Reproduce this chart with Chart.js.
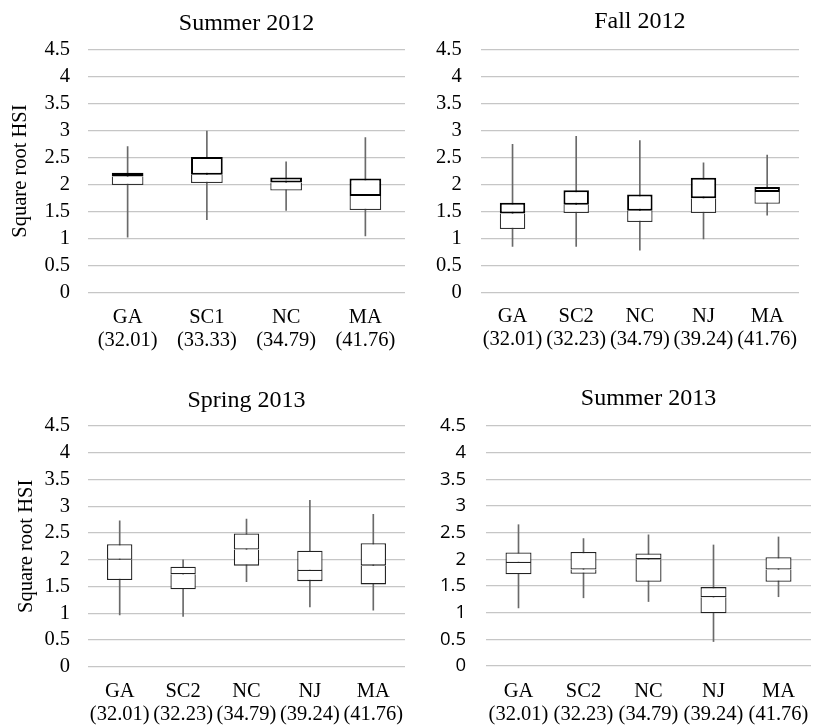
<!DOCTYPE html>
<html><head><meta charset="utf-8">
<script src="https://cdn.jsdelivr.net/npm/chart.js@4/dist/chart.umd.min.js"></script>
<style>
html,body{margin:0;padding:0;background:#fff;width:817px;height:728px;overflow:hidden}
canvas{position:absolute}
</style></head><body>
<canvas id="c1" width="410" height="360" style="left:0;top:0"></canvas>
<canvas id="c2" width="407" height="360" style="left:410px;top:0"></canvas>
<canvas id="c3" width="410" height="368" style="left:0;top:360px"></canvas>
<canvas id="c4" width="407" height="368" style="left:410px;top:360px"></canvas>
<script>
// Categories (site and latitude)
const sitesA = [["GA","(32.01)"],["SC1","(33.33)"],["NC","(34.79)"],["MA","(41.76)"]];
const sitesB = [["GA","(32.01)"],["SC2","(32.23)"],["NC","(34.79)"],["NJ","(39.24)"],["MA","(41.76)"]];
const yTickLabels = ["0","0.5","1","1.5","2","2.5","3","3.5","4","4.5"];

// Summer 2012
const su12Min = [1.03, 1.35, 1.52, 1.05];
const su12Q1  = [1.99, 2.03, 1.89, 1.53];
const su12Med = [2.15, 2.18, 2.04, 1.79];
const su12Q3  = [2.22, 2.51, 2.13, 2.11];
const su12Max = [2.70, 2.99, 2.42, 2.87];

// Fall 2012
const fa12Min = [0.86, 0.86, 0.79, 1.00, 1.44];
const fa12Q1  = [1.18, 1.48, 1.31, 1.48, 1.65];
const fa12Med = [1.47, 1.63, 1.52, 1.75, 1.87];
const fa12Q3  = [1.67, 1.90, 1.82, 2.13, 1.96];
const fa12Max = [2.75, 2.90, 2.82, 2.41, 2.55];

// Spring 2013
const sp13Min = [0.97, 0.94, 1.59, 1.12, 1.06];
const sp13Q1  = [1.62, 1.45, 1.89, 1.60, 1.54];
const sp13Med = [2.00, 1.73, 2.19, 1.79, 1.89];
const sp13Q3  = [2.29, 1.87, 2.49, 2.17, 2.31];
const sp13Max = [2.73, 2.00, 2.76, 3.11, 2.85];

// Summer 2013
const su13Min = [1.09, 1.28, 1.21, 0.46, 1.30];
const su13Q1  = [1.72, 1.73, 1.58, 0.99, 1.58];
const su13Med = [1.93, 1.81, 2.00, 1.29, 1.81];
const su13Q3  = [2.13, 2.14, 2.11, 1.48, 2.04];
const su13Max = [2.65, 2.39, 2.46, 2.27, 2.42];

const yTitle = "Square root HSI";
const SERIF = '"Liberation Serif","Times New Roman",serif';
const SANS = '"Open Sans","Liberation Sans",sans-serif';

function makeChart(id, title, labels, mn, q1, md, q3, mx, o) {
  const upperW = o.upperW, lowerW = o.lowerW;
  new Chart(document.getElementById(id), {
    type: 'bar',
    data: {
      labels: labels,
      datasets: [
        { data: md.map((v,i)=>[v, q3[i]]), backgroundColor:'#ffffff', borderColor:o.upperC,
          borderWidth:{top:upperW,left:upperW,right:upperW,bottom:upperW}, borderSkipped:false,
          barPercentage:0.4, categoryPercentage:1, grouped:false },
        { data: q1.map((v,i)=>[v, md[i]]), backgroundColor:'#ffffff', borderColor:o.lowerC,
          borderWidth:{top:0,left:lowerW,right:lowerW,bottom:lowerW}, borderSkipped:false,
          barPercentage:0.4, categoryPercentage:1, grouped:false },
        { data: mn.map((v,i)=>[v, mx[i]]), backgroundColor:'#6a6a6a', borderWidth:0,
          barThickness:1, grouped:false }
      ]
    },
    options: {
      responsive:false, animation:false, devicePixelRatio:1,
      layout:{ padding:{ left:o.lp, right:o.pr, top:0, bottom:o.pb } },
      plugins:{
        legend:{display:false}, tooltip:{enabled:false},
        title:{ display:true, text:title, fullSize:false, color:'#000',
          font:{family:SERIF, size:24, weight:'normal'}, padding:{top:o.tpt, bottom:o.tpb} }
      },
      scales:{
        x:{ grid:{display:false, drawTicks:true, tickLength:o.xpad}, border:{display:false},
          ticks:{ color:'#000', font:{family:SERIF, size:20.5, lineHeight:1.12}, padding:0,
            maxRotation:0, autoSkip:false } },
        y:{ min:0, max:4.5, grid:{color:'#c6c6c6', lineWidth:1.2, drawTicks:false}, border:{display:false},
          afterFit:(s)=>{ s.width = o.yw; },
          ticks:{ stepSize:0.5, autoSkip:false, color:'#000', font:{family:o.yFont, size:o.ySize}, padding:o.ypad,
            callback:(v, i)=>yTickLabels[i] },
          title:{ display:o.showY, text:yTitle, color:'#000', font:{family:SERIF, size:20.5},
            padding:{top:4, bottom:4} } }
      }
    }
  });
}

makeChart('c1', 'Summer 2012', sitesA, su12Min, su12Q1, su12Med, su12Q3, su12Max,
  {upperW:2, lowerW:1.3, upperC:'#000', lowerC:'#333', lp:4.7, yw:83.3, pr:5, pb:8.3, tpt:9.5, tpb:11,
   xpad:13, ypad:18, yFont:SERIF, ySize:20.5, showY:true});
makeChart('c2', 'Fall 2012', sitesB, fa12Min, fa12Q1, fa12Med, fa12Q3, fa12Max,
  {upperW:2, lowerW:1.3, upperC:'#000', lowerC:'#333', lp:0, yw:70.7, pr:18, pb:8.8, tpt:7.5, tpb:13.7,
   xpad:12.5, ypad:19, yFont:SERIF, ySize:20.5, showY:false});
makeChart('c3', 'Spring 2013', sitesB, sp13Min, sp13Q1, sp13Med, sp13Q3, sp13Max,
  {upperW:1.3, lowerW:1.3, upperC:'#222', lowerC:'#222', lp:10.7, yw:77.3, pr:5, pb:1.8, tpt:26.8, tpb:10.4,
   xpad:13.5, ypad:18, yFont:SERIF, ySize:20.5, showY:true});
makeChart('c4', 'Summer 2013', sitesB, su13Min, su13Q1, su13Med, su13Q3, su13Max,
  {upperW:1.3, lowerW:1.3, upperC:'#222', lowerC:'#222', lp:0, yw:76, pr:6, pb:1.8, tpt:24.5, tpb:12.7,
   xpad:14.2, ypad:20, yFont:SANS, ySize:18.5, showY:false});
</script>
</body></html>
